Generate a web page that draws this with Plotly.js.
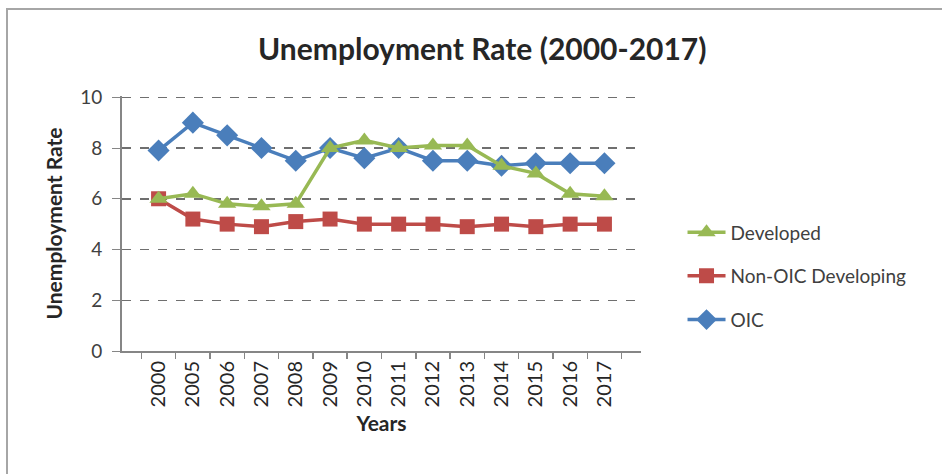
<!DOCTYPE html>
<html>
<head>
<meta charset="utf-8">
<script src="https://cdn.plot.ly/plotly-3.0.1.min.js"></script>
<style>
  html, body { margin: 0; padding: 0; background: #ffffff; }
  #chart { width: 942px; height: 474px; position: relative; }
  #frame { position: absolute; left: 6px; top: 8px; width: 1000px; height: 1000px;
           border-left: 2px solid #a6a6a6; border-top: 2px solid #a6a6a6; pointer-events: none; }
</style>
</head>
<body>
<div id="chart"></div>
<div id="frame"></div>
<script>
const years = ["2000","2005","2006","2007","2008","2009","2010","2011","2012","2013","2014","2015","2016","2017"];
const developed = [6.0, 6.2, 5.8, 5.7, 5.8, 8.0, 8.3, 8.0, 8.1, 8.1, 7.3, 7.0, 6.2, 6.1];
const nonOicDeveloping = [6.0, 5.2, 5.0, 4.9, 5.1, 5.2, 5.0, 5.0, 5.0, 4.9, 5.0, 4.9, 5.0, 5.0];
const oic = [7.9, 9.0, 8.5, 8.0, 7.5, 8.0, 7.6, 8.0, 7.5, 7.5, 7.3, 7.4, 7.4, 7.4];

const FONT = "Lato, 'Open Sans', sans-serif";

const traces = [
  { x: years, y: oic, name: "OIC", type: "scatter", mode: "lines+markers",
    legendgroup: "c", legendrank: 3,
    line: { color: "#4A7EBB", width: 3.5 },
    marker: { symbol: "diamond", size: 17, color: "#4A7EBB" } },
  { x: years, y: nonOicDeveloping, name: "Non-OIC Developing", type: "scatter", mode: "lines+markers",
    legendgroup: "b", legendrank: 2,
    line: { color: "#BE4B48", width: 3.5 },
    marker: { symbol: "square", size: 15, color: "#BE4B48" } },
  { x: years, y: developed, name: "Developed", type: "scatter", mode: "lines+markers",
    legendgroup: "a", legendrank: 1,
    line: { color: "#98B954", width: 3.5 },
    marker: { symbol: "triangle-up", size: 16, color: "#98B954" } }
];

const layout = {
  width: 942, height: 474,
  margin: { l: 122, r: 301, t: 96, b: 123 },
  paper_bgcolor: "rgba(0,0,0,0)",
  plot_bgcolor: "rgba(0,0,0,0)",
  font: { family: FONT, color: "#404040" },
  title: { text: "<b>Unemployment Rate (2000-2017)</b>", font: { family: FONT, size: 30, color: "#262626" },
           x: 0.512, xref: "container", xanchor: "center", y: 0.895, yref: "container", yanchor: "middle" },
  xaxis: {
    type: "category",
    title: { text: "<b>Years</b>", font: { family: FONT, size: 21, color: "#262626" }, standoff: 10 },
    tickangle: -90,
    tickfont: { family: FONT, size: 20, color: "#262626" },
    showline: true, linecolor: "#868686", linewidth: 2,
    ticks: "outside", tickson: "boundaries", ticklen: 6, tickcolor: "#868686", tickwidth: 1.5,
    showgrid: false, zeroline: false
  },
  yaxis: {
    range: [0, 10.05], tickvals: [0, 2, 4, 6, 8, 10],
    title: { text: "<b>Unemployment Rate</b>", font: { family: FONT, size: 21, color: "#262626" }, standoff: 12 },
    tickfont: { family: FONT, size: 19, color: "#404040" },
    ticklabelstandoff: 6,
    showline: true, linecolor: "#868686", linewidth: 2,
    ticks: "outside", ticklen: 8, tickcolor: "#868686",
    showgrid: true, gridcolor: "#6f6f6f", griddash: "dash", gridwidth: 1.5,
    zeroline: false
  },
  showlegend: true,
  legend: {
    x: 1.08, xanchor: "left", y: 0.54, yanchor: "top",
    traceorder: "grouped", tracegroupgap: 16,
    font: { family: FONT, size: 19, color: "#404040" },
    itemwidth: 38, bgcolor: "rgba(0,0,0,0)"
  }
};

Plotly.newPlot("chart", traces, layout, { displayModeBar: false, staticPlot: true });
</script>
</body>
</html>
